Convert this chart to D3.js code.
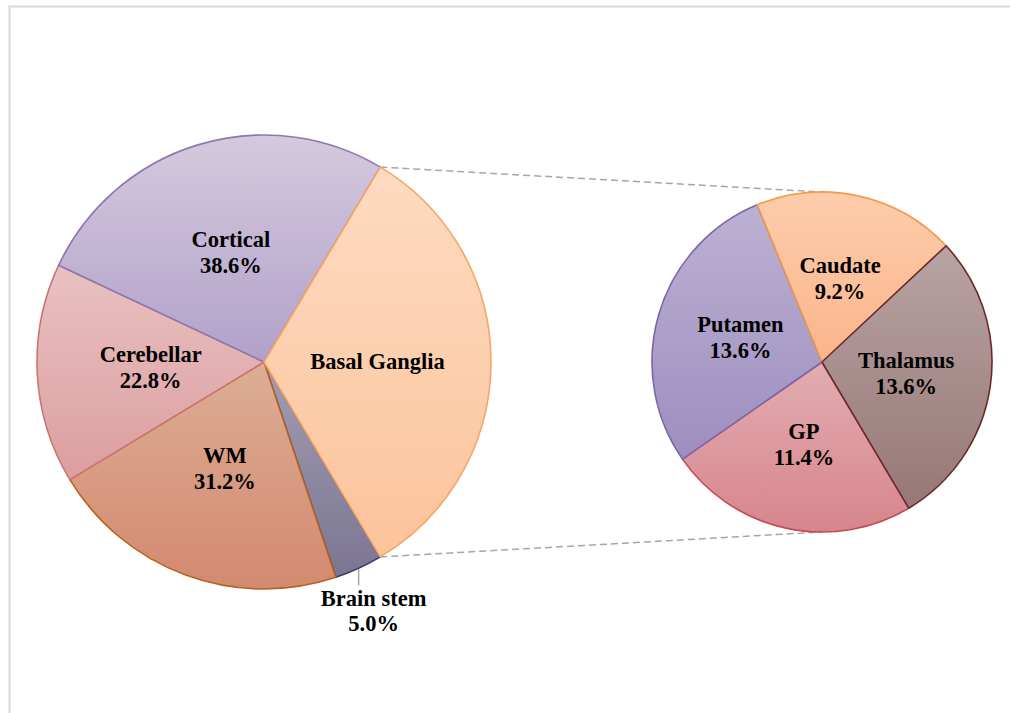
<!DOCTYPE html>
<html>

<head>
    <meta charset="utf-8">
    <title>pie of pie</title>
    <style type="text/css">
    body {
        margin: 0;
        background: #fff;
    }
    .lbl {
        font-family: "Liberation Serif", "Times New Roman", serif;
        font-weight: bold;
        font-size: 22.5px;
        fill: #000;
    }
    </style>
</head>

<body>
    <script src="https://cdn.jsdelivr.net/npm/d3@7/dist/d3.min.js"></script>
    <script>
    // main pie: the "Basal Ganglia" slice is the sum of the second pie
    var mainNames = ["Basal Ganglia", "Brain stem", "WM", "Cerebellar", "Cortical"];
    var mainValues = [null, 5.0, 31.2, 22.8, 38.6];
    var subNames = ["Caudate", "Thalamus", "GP", "Putamen"];
    var subValues = [9.2, 13.6, 11.4, 13.6];

    var W = 1010,
        H = 713;
    var c1 = { x: 264, y: 362, r: 227 },
        c2 = { x: 822, y: 362, r: 170 };

    // gradient colours [top, bottom], slice outline, stacking order
    var mainStyle = {
        "Basal Ganglia": ["#fddbc1", "#fcc39b", "#f6a765", 5],
        "Brain stem": ["#a29eb2", "#7b7592", "#3f3a6c", 1],
        "WM": ["#dcae95", "#d3896f", "#b7631c", 2],
        "Cerebellar": ["#e9c1c1", "#dc9e9f", "#cc7474", 3],
        "Cortical": ["#d5c9de", "#b1a1ca", "#8d78b0", 4]
    };
    var subStyle = {
        "Caudate": ["#fdcdab", "#fbb48c", "#f49a4c", 3],
        "Thalamus": ["#b9a3a3", "#977777", "#6b2a2a", 4],
        "GP": ["#e2adb1", "#d7858c", "#c44a55", 1],
        "Putamen": ["#bcb1d2", "#9d8ebf", "#7b66a6", 2]
    };

    var bgTotal = d3.sum(subValues);
    mainValues[0] = bgTotal;
    var mainData = mainNames.map(function(n, i) {
        return { name: n, value: mainValues[i] };
    });
    var subData = subNames.map(function(n, i) {
        return { name: n, value: subValues[i] };
    });

    var bgAngle = 2 * Math.PI * bgTotal / d3.sum(mainValues);
    var start1 = Math.PI / 2 - bgAngle / 2;
    var start2 = -22.4 * Math.PI / 180;

    var pie1 = d3.pie().sort(null).value(function(d) { return d.value; })
        .startAngle(start1).endAngle(start1 + 2 * Math.PI);
    var pie2 = d3.pie().sort(null).value(function(d) { return d.value; })
        .startAngle(start2).endAngle(start2 + 2 * Math.PI);

    var svg = d3.select("body")
        .append("svg")
        .attr("width", W)
        .attr("height", H);

    svg.append("rect") // chart frame
        .attr("x", 9.5)
        .attr("y", 6.5)
        .attr("width", W + 10)
        .attr("height", H + 10)
        .style("fill", "#fff")
        .style("stroke", "#d9d9d9")
        .style("stroke-width", 2);

    var defs = svg.append("defs");

    function addGrad(id, cols) {
        var g = defs.append("linearGradient")
            .attr("id", id)
            .attr("x1", 0).attr("y1", 0)
            .attr("x2", 0).attr("y2", 1);
        g.append("stop").attr("offset", "0%").attr("stop-color", cols[0]);
        g.append("stop").attr("offset", "100%").attr("stop-color", cols[1]);
    }

    function drawPie(c, arcs, style, prefix) {
        var arc = d3.arc().innerRadius(0).outerRadius(c.r);
        var lblArc = d3.arc().innerRadius(c.r * 0.5).outerRadius(c.r * 0.5);
        var g = svg.append("g").attr("transform", "translate(" + c.x + "," + c.y + ")");
        arcs.forEach(function(d, i) {
            d.gid = prefix + i;
            addGrad(d.gid, style[d.data.name]);
        });
        var ordered = arcs.slice().sort(function(a, b) {
            return style[a.data.name][3] - style[b.data.name][3];
        });
        g.selectAll("path")
            .data(ordered)
            .enter().append("path")
            .attr("d", arc)
            .style("fill", function(d) { return "url(#" + d.gid + ")"; })
            .style("stroke", function(d) { return style[d.data.name][2]; })
            .style("stroke-width", 1.6)
            .style("stroke-linejoin", "round");
        return { g: g, arc: lblArc };
    }

    var a1 = pie1(mainData),
        a2 = pie2(subData);

    // connector lines
    var bg = a1[0];

    function edge(c, ang) {
        return [c.x + c.r * Math.sin(ang), c.y - c.r * Math.cos(ang)];
    }
    var p1 = edge(c1, bg.startAngle),
        p2 = edge(c1, bg.endAngle);
    svg.append("line")
        .attr("x1", p1[0]).attr("y1", p1[1])
        .attr("x2", c2.x).attr("y2", c2.y - c2.r)
        .style("stroke", "#a6a6a6").style("stroke-width", 1.5)
        .style("stroke-dasharray", "7,4");
    svg.append("line")
        .attr("x1", p2[0]).attr("y1", p2[1])
        .attr("x2", c2.x).attr("y2", c2.y + c2.r)
        .style("stroke", "#a6a6a6").style("stroke-width", 1.5)
        .style("stroke-dasharray", "7,4");

    var m1 = drawPie(c1, a1, mainStyle, "gm");
    var m2 = drawPie(c2, a2, subStyle, "gs");

    function labels(m, arcs, skip) {
        arcs.forEach(function(d) {
            if (skip && d.data.name == skip) return;
            var p = m.arc.centroid(d);
            var t = m.g.append("text")
                .attr("class", "lbl")
                .attr("text-anchor", "middle");
            if (d.data.name == "Basal Ganglia") {
                t.attr("x", p[0]).attr("y", p[1] + 7).text(d.data.name);
            } else {
                t.append("tspan").attr("x", p[0]).attr("y", p[1] - 6).text(d.data.name);
                t.append("tspan").attr("x", p[0]).attr("y", p[1] + 20)
                    .text(d3.format(".1f")(d.data.value) + "%");
            }
        });
    }
    labels(m1, a1, "Brain stem");
    labels(m2, a2);

    // brain stem label outside, with a short leader
    var bs = a1[1];
    var mid = (bs.startAngle + bs.endAngle) / 2;
    var q = edge({ x: 0, y: 0, r: c1.r }, mid);
    m1.g.append("line")
        .attr("x1", q[0]).attr("y1", q[1] + 1)
        .attr("x2", q[0]).attr("y2", q[1] + 17)
        .style("stroke", "#a6a6a6").style("stroke-width", 1.5);
    var bt = m1.g.append("text").attr("class", "lbl").attr("text-anchor", "middle");
    bt.append("tspan").attr("x", q[0] + 15).attr("y", q[1] + 38).text(bs.data.name);
    bt.append("tspan").attr("x", q[0] + 15).attr("y", q[1] + 63)
        .text(d3.format(".1f")(bs.data.value) + "%");
    </script>
</body>

</html>
